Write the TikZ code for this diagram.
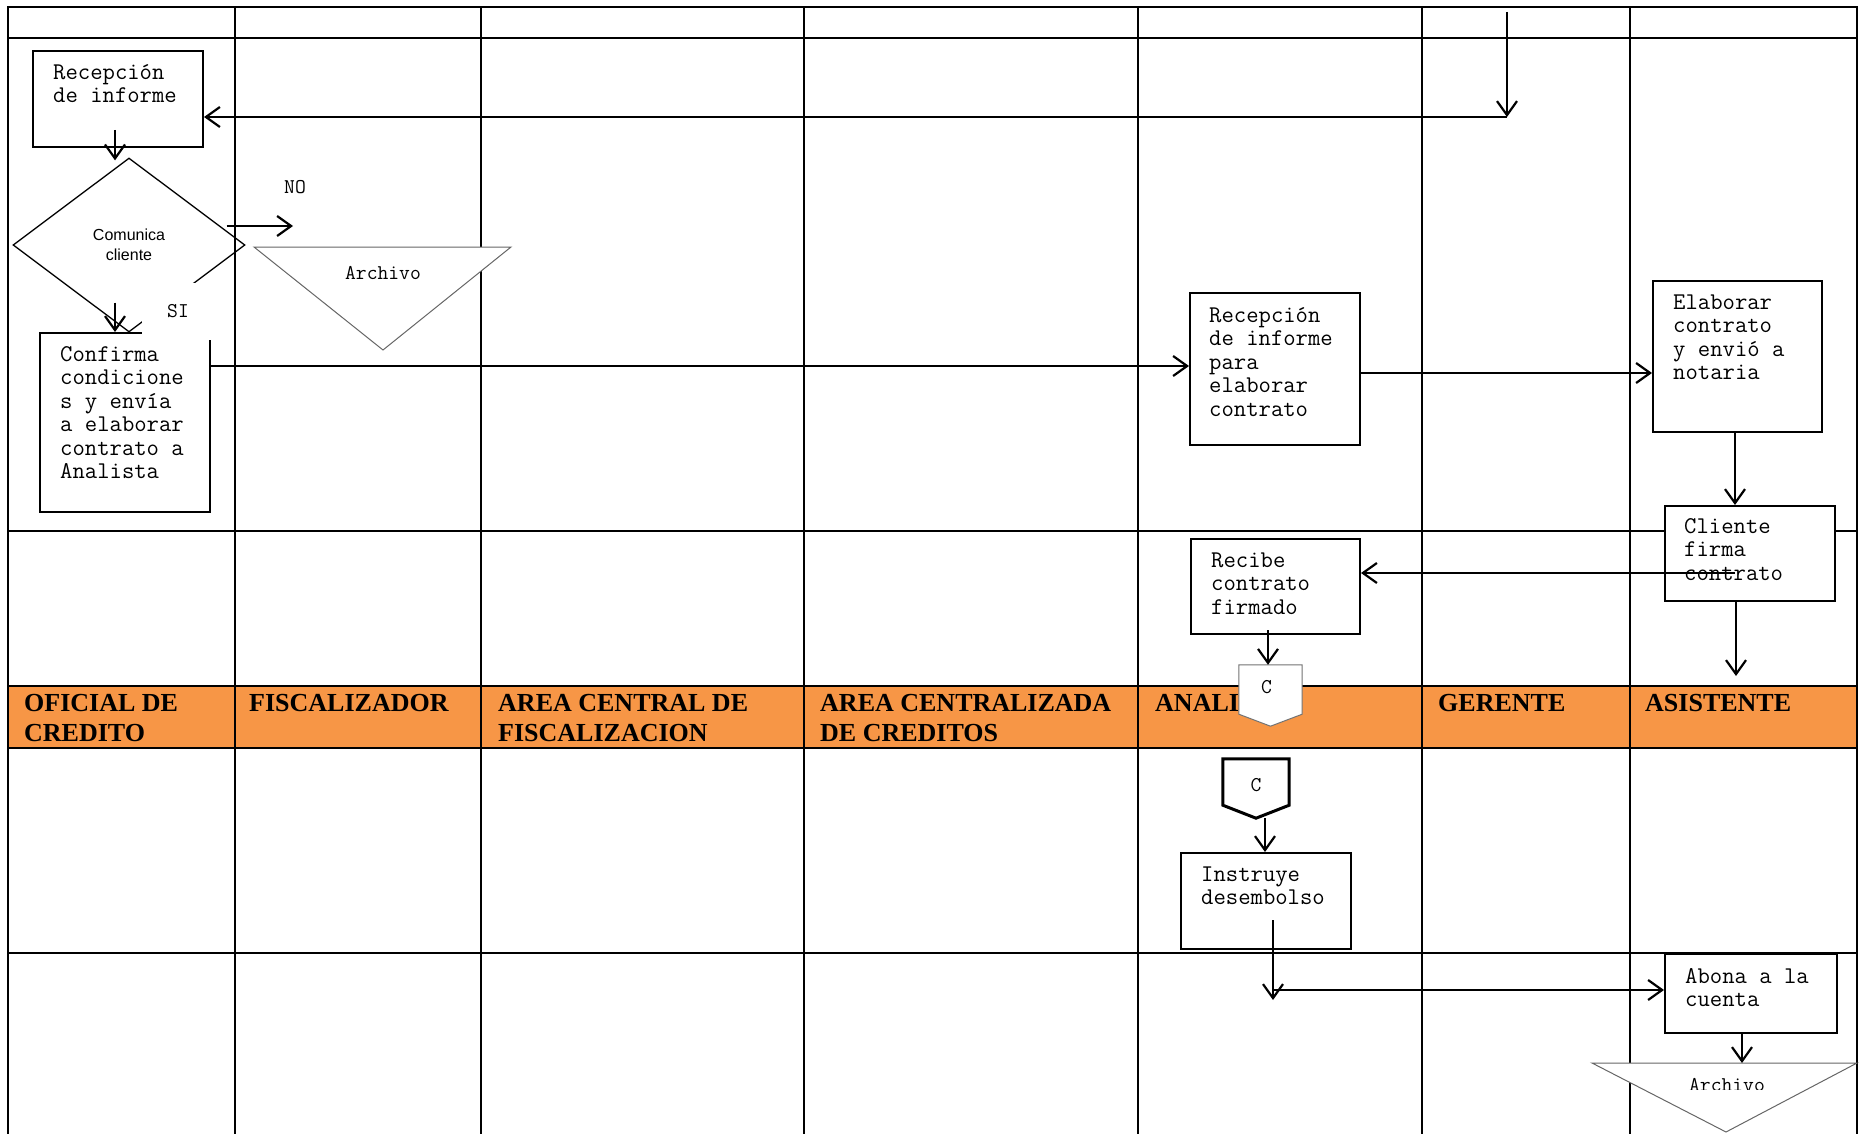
\documentclass[tikz,border=0pt]{standalone}
\usepackage{fontspec}
\setmainfont{Liberation Serif}
\newfontfamily\arialfont{Liberation Sans}
\usetikzlibrary{arrows.meta,shapes.geometric}
\definecolor{lanefill}{HTML}{F79646}

\begin{document}
\begin{tikzpicture}[x=1pt,y=-1pt,
  grid/.style={line width=2.4pt, line cap=rect},
  stepbox/.style={draw, line width=2pt, fill=white, inner sep=0pt},
  boxtext/.style={anchor=north west, inner sep=0pt, align=left,
    font=\ttfamily\fontsize{24}{23.5}\selectfont},
  lbl/.style={inner sep=0pt, font=\ttfamily\fontsize{21}{20}\selectfont},
  lanetitle/.style={anchor=north west, inner sep=0pt, align=left,
    font=\bfseries\fontsize{26}{30}\selectfont},
  storage/.style={draw=black!60, line width=1pt, fill=white},
  flow/.style={line width=2.2pt, -{Straight Barb[length=14pt,width=20pt]}},
]
\useasboundingbox (0,0) rectangle (1863,1134);

% lane title band
\fill[lanefill] (8,686) rectangle (1857,748);

% swimlane grid
\foreach \x in {8,235,481,804,1138,1422,1630,1857}
  \draw[grid] (\x,7) -- (\x,1134);
\foreach \y in {7,38,531,686,748,953}
  \draw[grid] (8,\y) -- (1857,\y);

% lane titles
\node[lanetitle] (t1) at (24,690)   {\strut OFICIAL DE\\CREDITO};
\node[lanetitle] (t2) at (249,690)  {\strut FISCALIZADOR};
\node[lanetitle] (t3) at (498,690)  {\strut AREA CENTRAL DE\\FISCALIZACION};
\node[lanetitle] (t4) at (820,690)  {\strut AREA CENTRALIZADA\\DE CREDITOS};
\node[lanetitle] (t5) at (1155,690) {\strut ANALISTA};
\node[lanetitle] (t6) at (1438,690) {\strut GERENTE};
\node[lanetitle] (t7) at (1645,690) {\strut ASISTENTE};

% ---- Oficial de credito ----
\node[stepbox, minimum width=170pt, minimum height=96pt] (rec1) at (118,99) {};
\node[boxtext] (rec1t) at ([xshift=21pt,yshift=-12.5pt]rec1.north west)
  {\strut Recepción\\de informe};

\node[draw, diamond, line width=1.3pt, minimum width=232pt, minimum height=174pt,
  inner sep=0pt, align=center, font=\arialfont\fontsize{16}{20}\selectfont]
  (dec) at (129,245) {Comunica\\cliente};

\node[stepbox, minimum width=170pt, minimum height=179pt] (conf) at (125,422.5) {};
\node[boxtext] (conft) at ([xshift=21pt,yshift=-12.5pt]conf.north west)
  {\strut Confirma\\condicione\\s y envía\\a elaborar\\contrato a\\Analista};

\node[lbl, fill=white, minimum width=72pt, minimum height=57pt] (si) at (178,311.5) {SI};
\node[lbl] (no) at (295,187) {NO};

% first archive
\coordinate (a1nw) at (254,247);
\coordinate (a1ne) at (511,247);
\coordinate (a1s)  at (383,350);
\filldraw[storage] (a1nw) -- (a1ne) -- (a1s) -- cycle;
\node[lbl] (arch1) at (383,273) {Archivo};

% ---- Analista ----
\node[stepbox, minimum width=170pt, minimum height=152pt] (rec2) at (1275,369) {};
\node[boxtext] (rec2t) at ([xshift=20pt,yshift=-13.5pt]rec2.north west)
  {\strut Recepción\\de informe\\para\\elaborar\\contrato};

\node[stepbox, minimum width=169pt, minimum height=95pt] (recb) at (1275.5,586.5) {};
\node[boxtext] (recbt) at ([xshift=21pt,yshift=-12.5pt]recb.north west)
  {\strut Recibe\\contrato\\firmado};

\node[inner sep=0pt, minimum width=63pt, minimum height=61pt] (c1) at (1270.5,695.5) {};
\filldraw[draw=black!55, line width=1pt, fill=white]
  (c1.north west) -- (c1.north east) -- ([yshift=12pt]c1.south east) --
  (c1.south) -- ([yshift=12pt]c1.south west) -- cycle;
\node[lbl] (c1t) at ([xshift=-4pt,yshift=8pt]c1.center) {C};

\node[inner sep=0pt, minimum width=66pt, minimum height=59pt] (c2) at (1256,788.5) {};
\filldraw[draw=black, line width=3pt, fill=white, line join=miter]
  (c2.north west) -- (c2.north east) -- ([yshift=13pt]c2.south east) --
  (c2.south) -- ([yshift=13pt]c2.south west) -- cycle;
\node[lbl] (c2t) at ([yshift=3.5pt]c2.center) {C};

\node[stepbox, minimum width=170pt, minimum height=96pt] (inst) at (1266,901) {};
\node[boxtext] (instt) at ([xshift=21pt,yshift=-12.5pt]inst.north west)
  {\strut Instruye\\desembolso};

% ---- Asistente ----
\node[stepbox, minimum width=169pt, minimum height=151pt] (elab) at (1737.5,356.5) {};
\node[boxtext] (elabt) at ([xshift=21pt,yshift=-12.5pt]elab.north west)
  {\strut Elaborar\\contrato\\y envió a\\notaria};

\node[stepbox, minimum width=170pt, minimum height=95pt] (cli) at (1750,553.5) {};
\node[boxtext] (clit) at ([xshift=20pt,yshift=-11.5pt]cli.north west)
  {\strut Cliente\\firma\\contrato};

\node[stepbox, minimum width=172pt, minimum height=79pt] (abona) at (1751,993.5) {};
\node[boxtext] (abonat) at ([xshift=21pt,yshift=-13.5pt]abona.north west)
  {\strut Abona a la\\cuenta};

% second archive
\coordinate (a2nw) at (1592,1063);
\coordinate (a2ne) at (1857,1063);
\coordinate (a2s)  at (1726,1132);
\filldraw[storage] (a2nw) -- (a2ne) -- (a2s) -- cycle;
\begin{scope}
  \clip (1650,1068) rectangle (1800,1089);
  \node[lbl] (arch2) at (1727,1085) {Archivo};
\end{scope}

% ---- connectors ----
\coordinate (topin)   at (1507,12);
\coordinate (topturn) at (1507,117);
\draw[flow] (topin) -- (topturn);
\draw[flow] (topturn) -- (rec1.east |- topturn);

\draw[flow] ([xshift=-3pt,yshift=18pt]rec1.south) -- ([xshift=-14pt,yshift=-3pt]dec.north);

\coordinate (noend) at (293,226);
\draw[flow] ([xshift=-19pt,yshift=19pt]dec.east) -- (noend);

\draw[flow] ([xshift=-14pt,yshift=30pt]dec.south) -- ([xshift=-10pt]conf.north);

\coordinate (r2in) at ([yshift=3pt]rec2.west);
\draw[flow] (conf.east |- r2in) -- (r2in);

\coordinate (r2out) at ([yshift=-4pt]rec2.east);
\draw[flow] (r2out) -- (elab.west |- r2out);

\coordinate (elout) at ([xshift=-2.5pt]elab.south);
\draw[flow] (elout) -- (elout |- cli.north);

\coordinate (cliback) at ([xshift=-15pt,yshift=-19.5pt]cli.center);
\draw[flow] (cliback) -- (recb.east |- cliback);

\coordinate (cliout) at ([xshift=-14pt]cli.south);
\coordinate (cliend) at (1736,676);
\draw[flow] (cliout) -- (cliend);

\coordinate (rbout) at ([xshift=-7.5pt,yshift=5pt]recb.south);
\draw[flow] (rbout) -- (rbout |- c1.north);

\coordinate (c2out) at ([xshift=9pt]c2.south);
\draw[flow] (c2out) -- (c2out |- inst.north);

\coordinate (instout) at ([xshift=7pt,yshift=30pt]inst.south);
\coordinate (instend) at (1273,1000);
\draw[flow] (instout) -- (instend);

\coordinate (payrun) at (1273,990);
\draw[flow] (payrun) -- (abona.west |- payrun);

\coordinate (about) at ([xshift=-9pt]abona.south);
\draw[flow] (about) -- (about |- a2nw);
\end{tikzpicture}
\end{document}
